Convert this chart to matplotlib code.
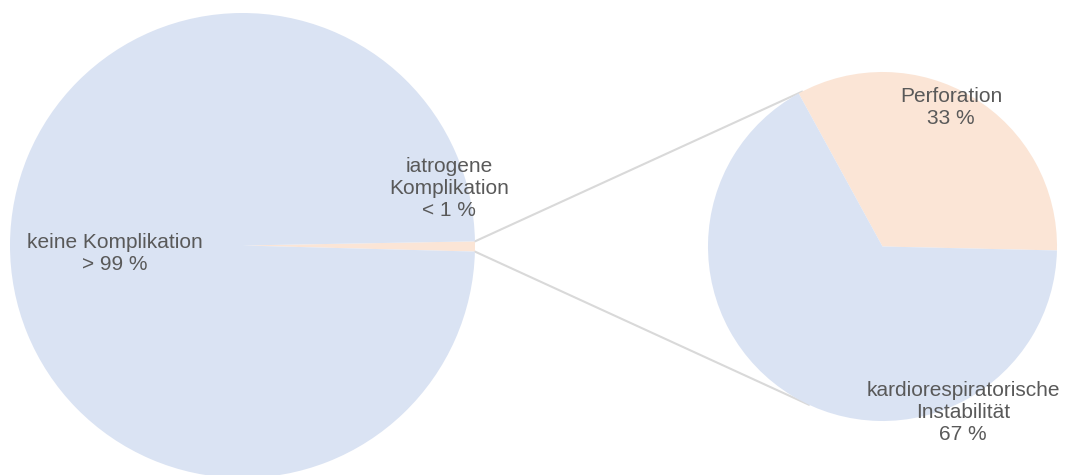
import numpy as np
import matplotlib.pyplot as plt
from matplotlib.patches import ConnectionPatch

plt.rcParams['font.family'] = ['Liberation Sans', 'DejaVu Sans']

# main pie: all procedures
main_labels = ['iatrogene\nKomplikation', 'keine Komplikation']
main_values = [0.7, 99.3]
main_pct = ['< 1 %', '> 99 %']

# second pie: breakdown of the complications
sub_labels = ['Perforation', 'kardiorespiratorische\nInstabilität']
sub_values = [1, 2]
sub_pct = ['33 %', '67 %']

blue = '#dae3f3'
orange = '#fbe5d6'
text_col = '#595959'
line_col = '#d9d9d9'

W, H = 1069, 475
fig = plt.figure(figsize=(W / 100, H / 100), dpi=100)
ax = fig.add_axes([0, 0, 1, 1])

c1, r1 = (242.5, 229.5), 232.5
c2, r2 = (882.5, 228.5), 174.5

wedges1, _ = ax.pie(main_values, colors=[orange, blue], startangle=-1.5,
                    center=c1, radius=r1, wedgeprops=dict(linewidth=0))
wedges2, _ = ax.pie(sub_values, colors=[orange, blue], startangle=-1.3,
                    center=c2, radius=r2, wedgeprops=dict(linewidth=0))

# connector lines from the small slice to the second pie
w = wedges1[0]
for a1, a2 in [(w.theta2, 117.5), (w.theta1, 245.0)]:
    p1 = (c1[0] + r1 * np.cos(np.radians(a1)), c1[1] + r1 * np.sin(np.radians(a1)))
    p2 = (c2[0] + r2 * np.cos(np.radians(a2)), c2[1] + r2 * np.sin(np.radians(a2)))
    ax.plot([p1[0], p2[0]], [p1[1], p2[1]], color=line_col, lw=1.5, zorder=0.5)

kw = dict(ha='center', va='center', fontsize=15, color=text_col, linespacing=1.2)
ax.text(115, H - 253, main_labels[1] + '\n' + main_pct[1], **kw)
ax.text(449, H - 188, main_labels[0] + '\n' + main_pct[0], **kw)
ax.text(951, H - 108, sub_labels[0] + '\n' + sub_pct[0], **kw)
ax.text(963, H - 412, sub_labels[1] + '\n' + sub_pct[1], **kw)

ax.set_xlim(0, W)
ax.set_ylim(0, H)
ax.set_aspect('equal')
ax.axis('off')

fig.savefig('out.png', dpi=100)
